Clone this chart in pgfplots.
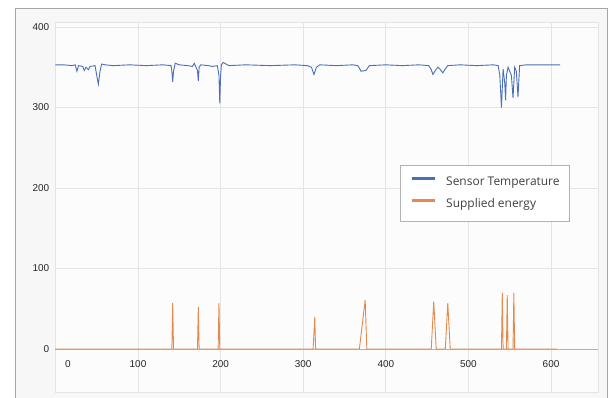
\documentclass[border=0pt]{standalone}
\usepackage{fontspec}
\setmainfont{Liberation Sans}
\newfontfamily\legfont{Open Sans}
\usepackage{pgfplots}
\pgfplotsset{compat=1.18}
\definecolor{tblue}{HTML}{4A6FB8}
\definecolor{torange}{HTML}{E58A4C}
\definecolor{framebg}{HTML}{F7F7F7}
\definecolor{framegray}{HTML}{A6A6A6}
\definecolor{gridgray}{HTML}{E4E4E4}
\begin{document}
\begin{tikzpicture}[x=1bp,y=1bp]
\useasboundingbox (0,0) rectangle (611,397);
\clip (0,0) rectangle (611,397);
\fill[white] (0,0) rectangle (611,397);
\filldraw[fill=framebg, draw=framegray, line width=0.8bp] (15,-5) rectangle (607,389);
\begin{axis}[
  at={(55.4bp,5bp)}, anchor=south west,
  scale only axis, width=542.7bp, height=370bp,
  xmin=0, xmax=657, ymin=-53.4, ymax=406.2,
  axis background/.style={fill=white!60!framebg},
  xtick={0,100,200,300,400,500,600},
  xticklabels={{\hspace{25bp}0},100,200,300,400,500,600},
  ytick={100,200,300,400},
  extra y ticks={0},
  extra y tick style={major grid style={draw=black!30, line width=0.7bp}},
  grid=major,
  major grid style={draw=gridgray, line width=0.7bp},
  axis line style={draw=gridgray},
  tick style={draw=none},
  /pgf/number format/assume math mode=true,
  ticklabel style={font=\fontsize{10}{12}\selectfont, text=black!85},
  yticklabel style={inner sep=0pt, xshift=-6bp},
  xticklabel style={inner sep=0pt, yshift=32bp},
  legend style={at={(0.635,0.6135)}, anchor=north west, draw=black!30, fill=white,
    font=\legfont\fontsize{12}{14}\selectfont, text=black!75,
    inner xsep=10bp, inner ysep=12bp, row sep=11bp,
    nodes={inner sep=0pt},
    /tikz/every odd column/.append style={column sep=10bp},
    cells={anchor=west}},
  legend image code/.code={\draw[#1, line width=3bp] (0bp,3.5bp) -- (23bp,3.5bp);},
]
\addplot[tblue, line width=0.9bp] coordinates {
(0,353) (10,353) (20,352) (24,353) (26,345) (28,352) (33,351) (35,346) (37,350)
(40,347) (42,351) (48,352) (50,340) (52,329) (54,345) (56,354) (60,353) (70,352)
(90,353) (110,352) (130,353) (140,352) (141,345) (142,332) (143,345) (145,355)
(150,353) (160,352) (166,351) (168,355) (172,346) (173,333) (174,350) (176,353)
(185,352) (190,351) (196,352) (198,340) (199,305) (200,340) (201,353) (203,356)
(210,352) (230,353) (260,352) (290,353) (305,352) (310,350) (313,341) (316,350)
(320,353) (340,352) (360,353) (366,352) (368,349) (370,345) (376,346) (378,349)
(380,352) (400,353) (420,352) (440,353) (452,352) (455,347) (457,341) (460,346)
(463,350) (466,347) (469,343) (472,348) (475,352) (490,353) (510,352) (530,353)
(536,352) (538,340) (540,300) (542,348) (544,330) (545,309) (546,340) (548,350)
(552,340) (554,312) (556,350) (558,345) (560,313) (562,352) (570,353) (590,353)
(611,353)};
\addlegendentry{Sensor Temperature}
\addplot[torange, line width=0.9bp] coordinates {
(0,0) (141,0) (142,57) (143,0) (172,0) (173,52) (174,0) (197,0) (198,57) (199,0)
(312,0) (314,40) (315,0) (368,0) (375,61) (377,0) (455,0) (458,59) (461,0)
(472,0) (475,57) (478,0) (540,0) (541,70) (542,0) (546,0) (547,67) (548,0)
(554,0) (555,70) (556,0) (607,0)};
\addlegendentry{Supplied energy}
\end{axis}
\end{tikzpicture}
\end{document}
